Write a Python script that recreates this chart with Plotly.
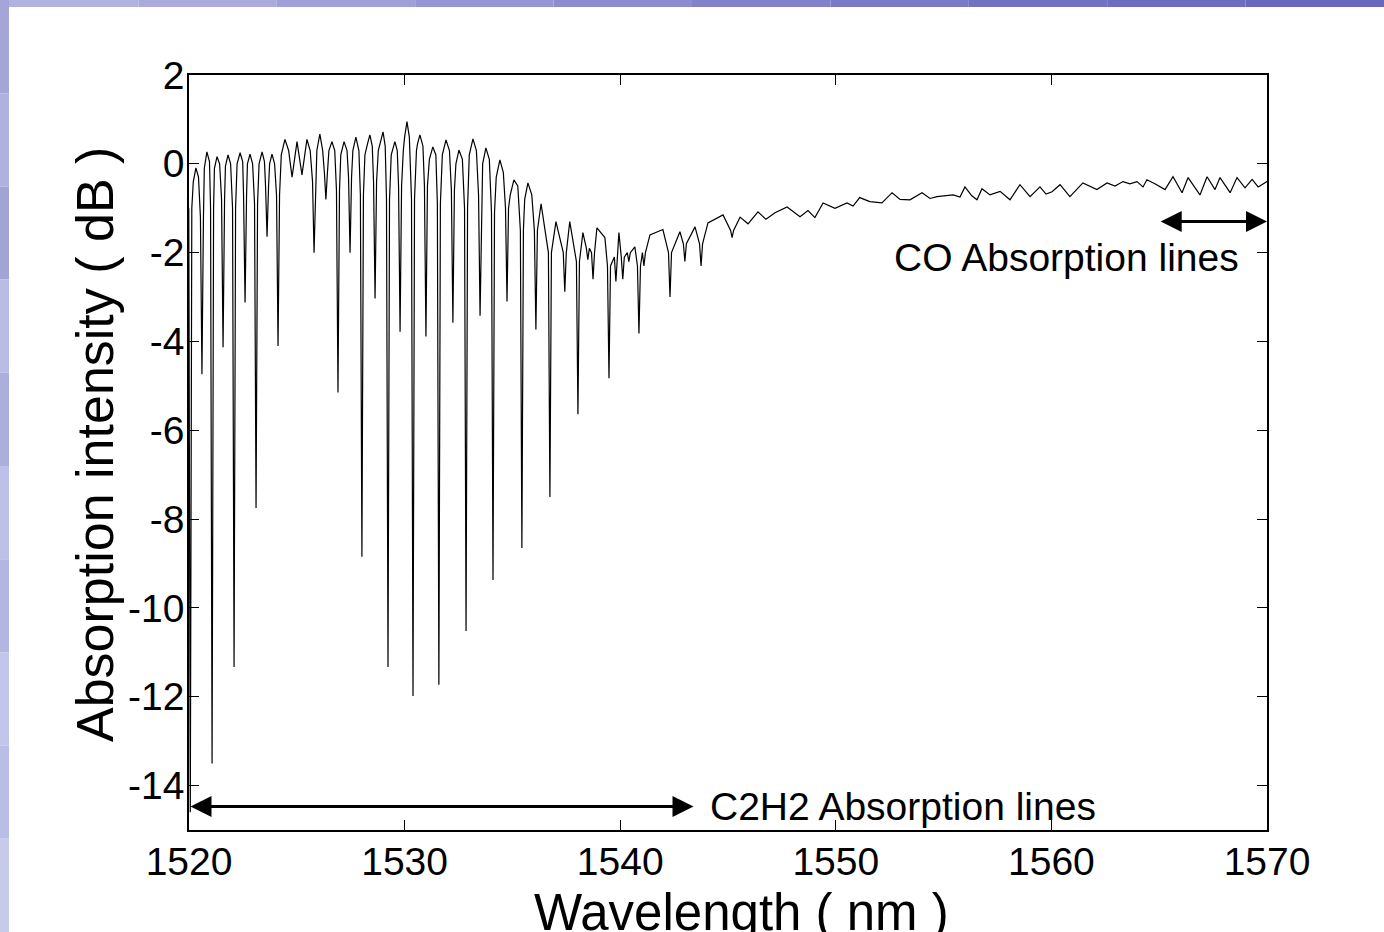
import plotly.graph_objects as go

# ---- data ----
# envelope / baseline of the transmission spectrum (wavelength nm, dB)
base_wl = [1520.32, 1520.83, 1521.30, 1521.81, 1522.37, 1522.83, 1523.39, 1523.85, 1524.45, 1524.78,
           1525.01, 1525.24, 1525.47, 1526.07, 1526.63, 1527.19, 1527.74, 1528.39, 1529.00, 1529.55,
           1530.11, 1530.71, 1531.31, 1531.92, 1532.52, 1533.17, 1533.77, 1534.42, 1535.07, 1535.72,
           1536.33, 1537.02, 1537.66, 1538.27, 1538.92, 1539.29, 1539.94, 1540.68, 1541.38, 1541.98,
           1542.77, 1543.47, 1544.07, 1544.77, 1545.56, 1545.93, 1546.39, 1546.76, 1547.18, 1547.74,
           1548.34, 1548.71, 1549.03, 1549.41, 1549.96, 1550.52, 1550.80, 1551.11, 1551.58, 1552.14,
           1552.61, 1552.98, 1553.44, 1554.00, 1554.37, 1554.69, 1555.06, 1555.44, 1555.76, 1555.99,
           1556.31, 1556.55, 1556.78, 1557.15, 1557.62, 1558.08, 1558.54, 1559.01, 1559.47, 1559.75,
           1560.03, 1560.40, 1560.86, 1561.46, 1562.11, 1562.58, 1562.95, 1563.32, 1563.64, 1563.97,
           1564.25, 1564.43, 1564.80, 1565.27, 1565.64, 1566.06, 1566.34, 1566.89, 1567.22, 1567.59,
           1567.82, 1568.29, 1568.61, 1568.98, 1569.31, 1569.59, 1570.00]
base_db = [-0.09, 0.27, 0.16, 0.20, 0.25, 0.22, 0.27, 0.22, 0.55, -0.30,
           0.50, -0.25, 0.55, 0.67, 0.50, 0.50, 0.60, 0.65, 0.72, 0.50,
           0.95, 0.65, 0.38, 0.54, 0.31, 0.56, 0.36, 0.09, -0.36, -0.43,
           -0.90, -1.30, -1.30, -1.55, -1.44, -1.66, -1.55, -1.87, -1.60, -1.48,
           -1.53, -1.42, -1.33, -1.15, -1.20, -1.35, -1.08, -1.25, -1.10, -0.97,
           -1.19, -1.05, -1.21, -0.88, -1.00, -0.88, -0.95, -0.76, -0.85, -0.88,
           -0.65, -0.80, -0.81, -0.65, -0.78, -0.74, -0.72, -0.70, -0.75, -0.52,
           -0.72, -0.81, -0.56, -0.70, -0.62, -0.81, -0.47, -0.74, -0.52, -0.68,
           -0.63, -0.47, -0.74, -0.43, -0.58, -0.43, -0.50, -0.40, -0.45, -0.40,
           -0.52, -0.36, -0.45, -0.58, -0.29, -0.65, -0.31, -0.70, -0.29, -0.58,
           -0.31, -0.65, -0.31, -0.54, -0.35, -0.52, -0.40]

# sides of the rounded arches between the C2H2 lines
arch_wl = [1520.20, 1520.44, 1520.71, 1520.95, 1521.18, 1521.42, 1521.69, 1521.93, 1522.23, 1522.49,
           1522.71, 1522.95, 1523.25, 1523.50, 1523.74, 1523.97, 1524.28, 1524.62, 1525.62, 1525.93,
           1526.20, 1526.49, 1526.76, 1527.04, 1527.33, 1527.60, 1527.88, 1528.16, 1528.28, 1528.50,
           1528.78, 1528.90, 1529.10, 1529.38, 1529.66, 1529.94, 1530.00, 1530.22, 1530.55, 1530.60,
           1530.85, 1531.15, 1531.45, 1531.75, 1532.08, 1532.38, 1532.68, 1533.00, 1533.33, 1533.62,
           1533.93, 1534.25, 1534.58, 1534.90, 1535.25, 1535.57, 1535.90]
arch_db = [-0.40, -0.30, -0.10, 0.05, -0.10, 0.00, -0.05, 0.00, 0.00, 0.05,
           0.00, 0.00, 0.00, 0.05, 0.00, 0.00, 0.20, 0.30, 0.30, 0.30,
           0.30, 0.30, 0.30, 0.20, 0.30, 0.30, 0.30, 0.20, 0.45, 0.40,
           0.30, 0.50, 0.40, 0.20, 0.30, 0.30, 0.60, 0.60, 0.30, 0.45,
           0.40, 0.10, 0.20, 0.20, 0.30, 0.00, 0.10, 0.20, 0.30, 0.00,
           0.10, -0.30, -0.20, -0.70, -0.50, -0.80, -0.70]

# absorption lines: centre, minimum, and level of the line wings
dip_wl = [1520.06, 1520.60, 1521.07, 1521.58, 1522.09, 1522.60, 1523.11, 1523.62, 1524.13, 1525.80,
          1526.35, 1526.91, 1527.47, 1528.02, 1528.63, 1529.23, 1529.79, 1530.39, 1530.99, 1531.59,
          1532.24, 1532.85, 1533.50, 1534.10, 1534.75, 1535.44, 1536.09, 1536.74, 1537.43, 1538.04,
          1538.50, 1538.74, 1539.48, 1539.80, 1540.12, 1540.40, 1540.87, 1541.10, 1542.31, 1543.00,
          1543.75, 1545.19]
dip_db = [-14.6, -4.74, -13.5, -4.13, -11.33, -3.12, -7.75, -1.64, -4.10, -2.00,
          -0.80, -5.15, -2.00, -8.85, -3.03, -11.33, -3.78, -11.98, -3.89, -11.73,
          -3.58, -10.52, -3.42, -9.37, -3.10, -8.65, -3.73, -7.50, -2.88, -5.64,
          -2.16, -2.60, -4.83, -2.65, -2.60, -2.20, -3.82, -2.30, -3.00, -2.20,
          -2.30, -1.66]
dip_wing = [-1.0, -1.2, -1.0, -0.8, -1.0, -0.7, -0.9, -0.5, -0.7, -0.4,
            -0.2, -0.6, -0.3, -0.7, -0.4, -0.8, -0.5, -0.8, -0.5, -0.9,
            -0.6, -1.0, -0.7, -1.1, -1.0, -1.5, -1.5, -2.0, -2.0, -2.2,
            -1.9, -2.0, -2.3, -2.1, -2.1, -2.0, -2.3, -2.0, -2.0, -1.8,
            -1.8, -1.5]

x_ticks = [1520, 1530, 1540, 1550, 1560, 1570]
x_tick_text = ["1520", "1530", "1540", "1550", "1560", "1570"]
y_ticks = [-14, -12, -10, -8, -6, -4, -2, 0, 2]
y_tick_text = ["-14", "-12", "-10", "-8", "-6", "-4", "-2", "0", "2"]

# ---- assemble the trace ----
HALF = 0.07
pts = list(zip(base_wl, base_db)) + list(zip(arch_wl, arch_db))
for w, d, s in zip(dip_wl, dip_db, dip_wing):
    pts += [(w - HALF, s), (w, d), (w + HALF, s)]
pts.sort(key=lambda p: p[0])
xs = [p[0] for p in pts]
ys = [p[1] for p in pts]

FONT = "Liberation Sans, Arial, sans-serif"

fig = go.Figure()
fig.add_trace(go.Scatter(x=xs, y=ys, mode="lines",
                         line=dict(color="black", width=1.2), showlegend=False,
                         hoverinfo="skip"))

# plot area in pixels: left 189, right 1267, top 75, bottom 830
W, H = 1384, 932
L, R, T, B = 189, 1267, 75, 830
pw, ph = R - L, B - T
def px(x):
    return (x - L) / pw
def py(y):
    return (B - y) / ph

shapes = []
# blue slide background strips
top_cols = [(178, 178, 224), (170, 170, 221), (160, 160, 216), (150, 150, 212), (140, 140, 207),
            (130, 130, 203), (122, 122, 199), (114, 114, 195), (108, 108, 192), (104, 104, 190)]
n = len(top_cols)
for i, c in enumerate(top_cols):
    shapes.append(dict(type="rect", xref="paper", yref="paper",
                       x0=px(i * W / n), x1=px((i + 1) * W / n), y0=py(7), y1=py(0),
                       fillcolor="rgb(%d,%d,%d)" % c, line=dict(width=0), layer="below"))
left_cols = [(165, 165, 215), (175, 178, 222), (160, 165, 214), (185, 188, 228), (170, 175, 220),
             (190, 192, 232), (178, 182, 225), (195, 198, 235), (185, 190, 230), (200, 202, 236)]
m = len(left_cols)
for i, c in enumerate(left_cols):
    shapes.append(dict(type="rect", xref="paper", yref="paper",
                       x0=px(0), x1=px(9), y0=py((i + 1) * H / m), y1=py(i * H / m),
                       fillcolor="rgb(%d,%d,%d)" % c, line=dict(width=0), layer="below"))

ann = []
ann.append(dict(text="Wavelength ( nm )", xref="paper", yref="paper", x=px(741), y=py(882),
                xanchor="center", yanchor="top", showarrow=False,
                font=dict(family=FONT, size=51, color="black")))
ann.append(dict(text="Absorption intensity ( dB )", xref="paper", yref="paper", x=px(95), y=py(445),
                xanchor="center", yanchor="middle", textangle=-90, showarrow=False,
                font=dict(family=FONT, size=52, color="black")))
ann.append(dict(text="CO Absorption lines", xref="x", yref="y", x=1560.72, y=-2.11,
                xanchor="center", yanchor="middle", showarrow=False,
                font=dict(family=FONT, size=39, color="black")))
ann.append(dict(text="C2H2 Absorption lines", xref="x", yref="y", x=1544.07, y=-14.47,
                xanchor="left", yanchor="middle", showarrow=False,
                font=dict(family=FONT, size=39, color="black")))
# double-headed arrows
ann.append(dict(text="", xref="x", yref="y", axref="x", ayref="y", x=1570.0, y=-1.3, ax=1565.0, ay=-1.3,
                showarrow=True, arrowhead=2, startarrowhead=2, arrowside="end+start",
                arrowwidth=3, arrowsize=1.4, startarrowsize=1.4, arrowcolor="black"))
ann.append(dict(text="", xref="x", yref="y", axref="x", ayref="y", x=1543.4, y=-14.47, ax=1520.0, ay=-14.47,
                showarrow=True, arrowhead=2, startarrowhead=2, arrowside="end+start",
                arrowwidth=3, arrowsize=1.4, startarrowsize=1.4, arrowcolor="black"))

axis_common = dict(showgrid=False, zeroline=False, showline=True, linecolor="black", linewidth=1.5,
                   ticks="inside", ticklen=10, tickwidth=1, tickcolor="black", mirror="ticks",
                   tickfont=dict(family=FONT, size=39, color="black"))

fig.update_layout(
    width=W, height=H,
    margin=dict(l=L, r=W - R, t=T, b=H - B, pad=0),
    paper_bgcolor="white", plot_bgcolor="white",
    xaxis=dict(range=[1520, 1570], tickvals=x_ticks, ticktext=x_tick_text,
               ticklabelstandoff=-4, **axis_common),
    yaxis=dict(range=[-15, 2], tickvals=y_ticks, ticktext=y_tick_text,
               ticklabelstandoff=-5, **axis_common),
    shapes=shapes, annotations=ann,
)

fig.write_html("out.html", config={"displayModeBar": False},
               post_script="document.body.style.margin='0px';")
